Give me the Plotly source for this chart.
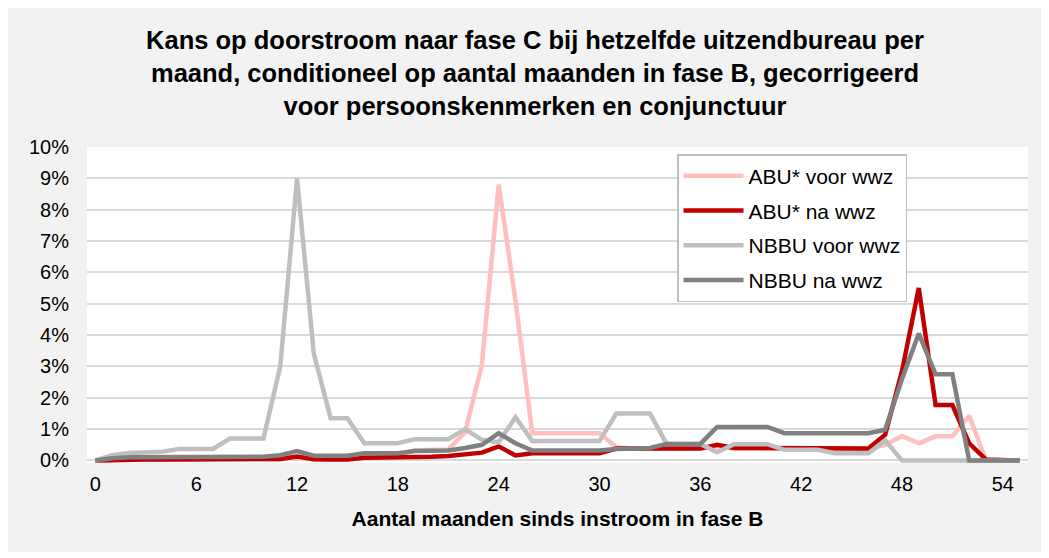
import plotly.graph_objects as go

months = list(range(56))
x_ticks = [0, 6, 12, 18, 24, 30, 36, 42, 48, 54]
y_ticks = [0, 1, 2, 3, 4, 5, 6, 7, 8, 9, 10]
y_tick_labels = [f"{v}%" for v in y_ticks]

abu_voor = [0, 0.02, 0.02, 0.02, 0.02, 0.02, 0.02, 0.02, 0.02, 0.02,
            0.02, 0.04, 0.1, 0.03, 0.03, 0.03, 0.15, 0.15, 0.15, 0.33,
            0.33, 0.35, 0.9, 3.05, 8.8, 5.1, 0.87, 0.87, 0.87, 0.87,
            0.87, 0.42, 0.38, 0.38, 0.38, 0.38, 0.38, 0.45, 0.38, 0.38,
            0.38, 0.36, 0.36, 0.36, 0.36, 0.36, 0.36, 0.5, 0.78, 0.55,
            0.77, 0.77, 1.43, 0, 0, 0]
abu_na = [0, 0.02, 0.03, 0.03, 0.03, 0.03, 0.03, 0.03, 0.03, 0.03,
          0.03, 0.05, 0.13, 0.04, 0.03, 0.03, 0.09, 0.09, 0.09, 0.1,
          0.12, 0.14, 0.2, 0.25, 0.45, 0.16, 0.23, 0.23, 0.23, 0.23,
          0.23, 0.38, 0.38, 0.38, 0.38, 0.38, 0.38, 0.5, 0.4, 0.4,
          0.4, 0.38, 0.38, 0.38, 0.38, 0.38, 0.38, 0.82, 2.85, 5.5,
          1.77, 1.77, 0.55, 0.03, 0, 0]
nbbu_voor = [0, 0.17, 0.24, 0.27, 0.28, 0.37, 0.37, 0.37, 0.7, 0.7,
             0.7, 3.0, 9.0, 3.4, 1.35, 1.35, 0.55, 0.55, 0.55, 0.68,
             0.68, 0.68, 1.0, 0.66, 0.58, 1.38, 0.62, 0.62, 0.62, 0.62,
             0.62, 1.5, 1.5, 1.5, 0.53, 0.53, 0.53, 0.26, 0.52, 0.52,
             0.52, 0.34, 0.34, 0.34, 0.23, 0.23, 0.23, 0.64, 0, 0,
             0, 0, 0, 0, 0, 0]
nbbu_na = [0, 0.07, 0.1, 0.1, 0.1, 0.12, 0.12, 0.12, 0.12, 0.12,
           0.12, 0.17, 0.3, 0.15, 0.15, 0.15, 0.23, 0.23, 0.23, 0.3,
           0.3, 0.32, 0.4, 0.5, 0.87, 0.55, 0.32, 0.32, 0.32, 0.32,
           0.32, 0.37, 0.38, 0.4, 0.53, 0.53, 0.53, 1.07, 1.07, 1.07,
           1.07, 0.87, 0.87, 0.87, 0.87, 0.87, 0.87, 0.98, 2.6, 4.05,
           2.75, 2.75, 0, 0, 0, 0]

series = [
    ("ABU* voor wwz", abu_voor, "#FFBFBF"),
    ("ABU* na wwz", abu_na, "#C00000"),
    ("NBBU voor wwz", nbbu_voor, "#BFBFBF"),
    ("NBBU na wwz", nbbu_na, "#808080"),
]

fig = go.Figure()
for i, (name, vals, col) in enumerate(series):
    fig.add_trace(go.Scatter(x=months, y=vals, mode="lines", name=name,
                             legendgroup=str(i),
                             line=dict(color=col, width=4.5)))

# page body has an 8px default margin; figure pixel = screen pixel - 8
OFF = 8
W, H = 1049 - OFF, 558 - OFF
ml, mr, mt, mb = 87 - OFF, 21, 147 - OFF, 95
pw = W - ml - mr
ph = H - mt - mb

def px_x(px):
    return (px - OFF - ml) / pw

def px_y(py):
    return (H - mb - (py - OFF)) / ph

fig.add_shape(type="rect", xref="paper", yref="paper",
              x0=px_x(OFF), x1=px_x(1044), y0=px_y(552), y1=px_y(OFF),
              fillcolor="#F2F2F2", line=dict(width=0), layer="below")
fig.add_shape(type="rect", xref="paper", yref="paper",
              x0=0, x1=1, y0=0, y1=1,
              fillcolor="white", line=dict(width=0), layer="below")

fig.update_layout(
    width=W, height=H,
    margin=dict(l=ml, r=mr, t=mt, b=mb),
    paper_bgcolor="white", plot_bgcolor="white",
    font=dict(family="Arial, Liberation Sans, sans-serif", color="black", size=20),
    title=dict(
        text="<b>Kans op doorstroom naar fase C bij hetzelfde uitzendbureau per<br>"
             "maand, conditioneel op aantal maanden in fase B, gecorrigeerd<br>"
             "voor persoonskenmerken en conjunctuur</b>",
        x=(535 - OFF) / W, xanchor="center", xref="container",
        y=1 - 41 / H, yanchor="top", yref="container",
        font=dict(size=25.5, color="black")),
    xaxis=dict(range=[-0.5, 55.5], tickvals=x_ticks, ticktext=[str(v) for v in x_ticks],
               showgrid=False, zeroline=False, showline=False,
               ticks="outside", ticklen=3, tickcolor="rgba(0,0,0,0)",
               tickfont=dict(size=20),
               title=dict(text="<b>Aantal maanden sinds instroom in fase B</b>",
                          font=dict(size=21), standoff=17)),
    yaxis=dict(range=[-0.08, 10.0], tickvals=y_ticks, ticktext=y_tick_labels,
               showgrid=True, gridcolor="#D9D9D9", gridwidth=1.5,
               zeroline=False, showline=False,
               ticks="outside", ticklen=13, tickcolor="rgba(0,0,0,0)",
               tickfont=dict(size=20)),
    legend=dict(x=px_x(677), y=px_y(154), xanchor="left", yanchor="top",
                bgcolor="white", bordercolor="#BFBFBF", borderwidth=1.5,
                font=dict(size=21), tracegroupgap=4.5, itemwidth=60),
    showlegend=True,
)

fig.write_html("out.html")
